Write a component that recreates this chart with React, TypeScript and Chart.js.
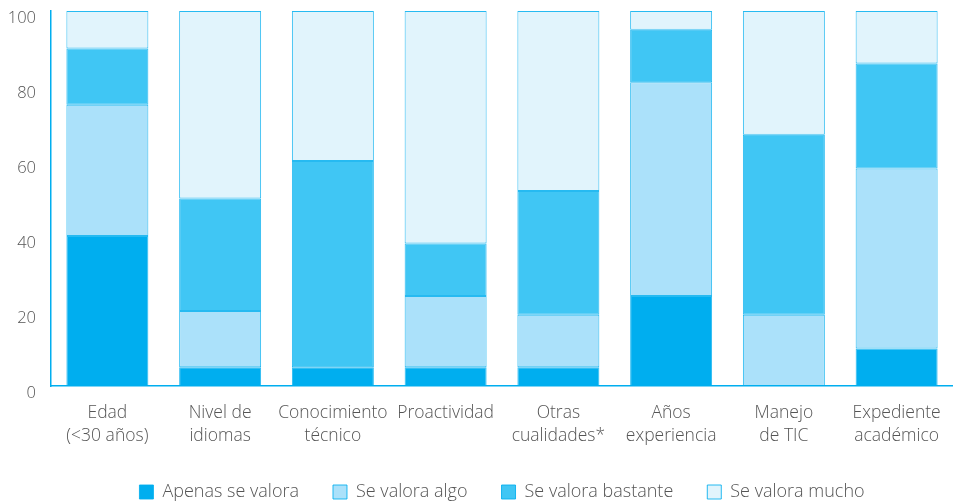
import React, { useEffect, useRef } from "react";
import { Chart, registerables } from "chart.js";

Chart.register(...registerables);

const categories: string[][] = [
  ["Edad", "(<30 años)"],
  ["Nivel de", "idiomas"],
  ["Conocimiento", "técnico"],
  ["Proactividad"],
  ["Otras", "cualidades*"],
  ["Años", "experiencia"],
  ["Manejo", "de TIC"],
  ["Expediente", "académico"],
];

const apenas = [40, 5, 5, 5, 5, 24, 0, 10];
const algo = [35, 15, 0, 19, 14, 57, 19, 48];
const bastante = [15, 30, 55, 14, 33, 14, 48, 28];
const mucho = [10, 50, 40, 62, 48, 5, 33, 14];

const seriesNames = ["Apenas se valora", "Se valora algo", "Se valora bastante", "Se valora mucho"];
const seriesColors = ["#00AEEF", "#ABE1FA", "#40C6F4", "#E1F4FC"];
const yTicks = [0, 20, 40, 60, 80, 100];

const FONT = "'Open Sans', sans-serif";
const TEXT = "#555555";

export default function App() {
  const ref = useRef<HTMLCanvasElement | null>(null);

  useEffect(() => {
    document.body.style.margin = "0";
    const canvas = ref.current;
    if (!canvas) return;
    const data = [apenas, algo, bastante, mucho];
    const chart = new Chart(canvas, {
      type: "bar",
      data: {
        labels: categories,
        datasets: data.map((d, i) => ({
          label: seriesNames[i],
          data: d,
          backgroundColor: seriesColors[i],
          borderColor: "rgba(0,174,239,0.85)",
          borderWidth: 1,
          borderSkipped: false,
          categoryPercentage: 1,
          barPercentage: 0.727,
        })),
      },
      options: {
        animation: false,
        responsive: false,
        maintainAspectRatio: false,
        layout: { padding: { top: 11, left: 9, right: 0, bottom: -9 } },
        plugins: {
          tooltip: { enabled: false },
          legend: {
            position: "bottom",
            fullSize: false,
            labels: {
              boxWidth: 14,
              boxHeight: 14,
              padding: 34,
              color: TEXT,
              font: { family: FONT, size: 18, weight: "300" as any },
            },
          },
        },
        scales: {
          x: {
            stacked: true,
            grid: { display: false, drawTicks: false },
            border: { display: true, color: "#00AEEF", width: 1.5 },
            afterFit: (axis: any) => {
              axis.height = 63;
              axis.paddingLeft = 0;
              axis.paddingRight = 0;
            },
            ticks: {
              color: TEXT,
              padding: 16,
              maxRotation: 0,
              autoSkip: false,
              font: { family: FONT, size: 17.5, weight: "300" as any, lineHeight: 1.314 },
            },
          },
          y: {
            stacked: true,
            min: 0,
            max: 100,
            afterBuildTicks: (axis: any) => {
              axis.ticks = yTicks.map((v) => ({ value: v }));
            },
            afterFit: (axis: any) => {
              axis.width = 42;
              axis.paddingTop = 0;
              axis.paddingBottom = 0;
            },
            grid: { display: false, drawTicks: false },
            border: { display: true, color: "#00AEEF", width: 1.5 },
            ticks: {
              color: TEXT,
              padding: 15,
              labelOffset: 7,
              font: { family: FONT, size: 16.5, weight: "300" as any },
            },
          },
        },
      },
    });
    return () => chart.destroy();
  }, []);

  return (
    <div style={{ width: 953, height: 502 }}>
      <canvas ref={ref} width={953} height={502} style={{ display: "block" }} />
    </div>
  );
}
